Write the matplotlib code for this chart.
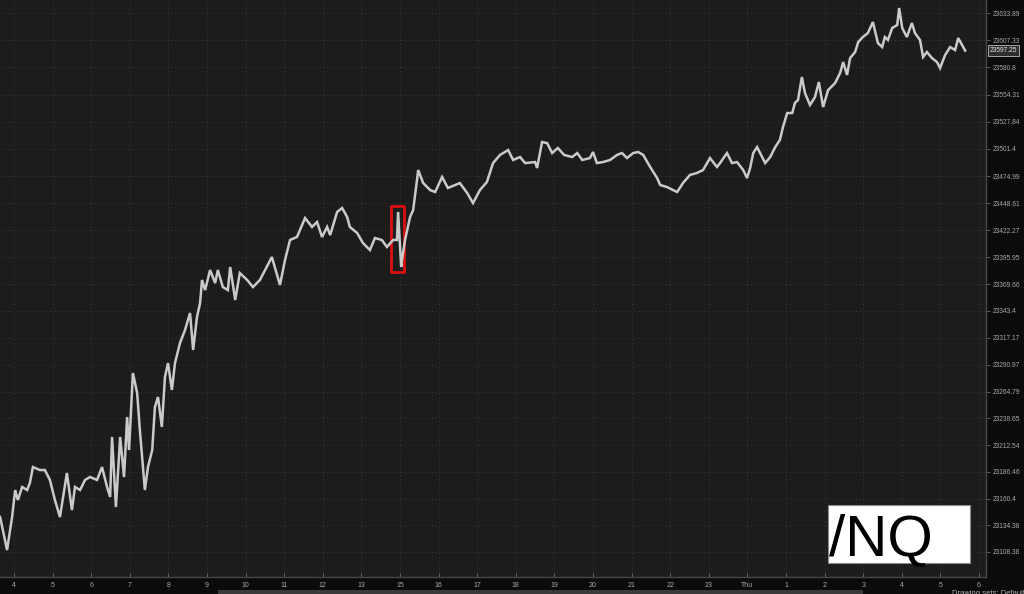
import matplotlib
matplotlib.use('Agg')
import matplotlib.pyplot as plt
from matplotlib.patches import Rectangle

# hours counted from the "4" tick (one unit = one hourly tick)
hours = [-0.36, -0.18, -0.05, 0.03, 0.10, 0.21, 0.34, 0.41, 0.49, 0.67, 0.80, 0.93,
         1.06, 1.19, 1.37, 1.50, 1.58, 1.71, 1.84, 1.97, 2.15, 2.28, 2.41, 2.49,
         2.54, 2.64, 2.75, 2.85, 2.93, 2.98, 3.08, 3.19, 3.26, 3.39, 3.47, 3.58,
         3.65, 3.73, 3.83, 3.91, 3.99, 4.09, 4.17, 4.30, 4.43, 4.56, 4.64, 4.74,
         4.82, 4.87, 4.95, 5.08, 5.21, 5.28, 5.41, 5.54, 5.60, 5.73, 5.85, 6.04,
         6.19, 6.37, 6.68, 6.89, 7.02, 7.15, 7.33, 7.54, 7.72, 7.85, 7.98, 8.11,
         8.19, 8.37, 8.50, 8.63, 8.70, 8.89, 9.04, 9.22, 9.35, 9.53, 9.66, 9.82,
         9.92, 9.95, 10.03, 10.05, 10.13, 10.26, 10.34, 10.44, 10.47, 10.60, 10.78, 10.91,
         11.09, 11.24, 11.55, 11.74, 11.89, 12.07, 12.25, 12.41, 12.59, 12.80, 12.93, 13.11,
         13.24, 13.50, 13.55, 13.68, 13.81, 13.94, 14.09, 14.25, 14.46, 14.59, 14.72, 14.92,
         15.00, 15.10, 15.26, 15.44, 15.62, 15.75, 15.88, 16.04, 16.17, 16.30, 16.48, 16.66,
         16.74, 16.92, 17.07, 17.18, 17.33, 17.51, 17.69, 17.85, 18.03, 18.21, 18.29, 18.47,
         18.60, 18.73, 18.89, 18.99, 19.07, 19.15, 19.25, 19.38, 19.46, 19.59, 19.72, 19.84,
         19.92, 20.03, 20.16, 20.23, 20.31, 20.41, 20.49, 20.62, 20.75, 20.85, 20.96, 21.09,
         21.27, 21.40, 21.48, 21.58, 21.66, 21.79, 21.87, 21.99, 22.12, 22.25, 22.38, 22.49,
         22.56, 22.64, 22.75, 22.88, 22.93, 23.01, 23.13, 23.26, 23.34, 23.47, 23.55, 23.65,
         23.78, 23.91, 23.99, 24.12, 24.25, 24.38, 24.46, 24.56, 24.64]

prices = [23142.5, 23110.3, 23142.5, 23168.8, 23159.1, 23171.8, 23168.8, 23175.6, 23191.2, 23188.3, 23188.3, 23178.6,
          23159.1, 23142.5, 23185.4, 23149.3, 23171.8, 23168.8, 23178.6, 23181.5, 23178.6, 23191.2, 23171.8, 23162.0,
          23220.5, 23152.2, 23220.5, 23181.5, 23240.0, 23207.8, 23282.9, 23263.4, 23227.3, 23168.8, 23191.2, 23207.8,
          23249.7, 23259.5, 23230.3, 23279.0, 23292.6, 23266.3, 23292.6, 23312.2, 23324.8, 23341.4, 23305.3, 23337.5,
          23351.1, 23373.6, 23363.8, 23383.3, 23370.6, 23383.3, 23366.7, 23363.8, 23386.2, 23354.1, 23380.4, 23373.6,
          23366.7, 23373.6, 23396.0, 23368.7, 23393.0, 23412.6, 23415.5, 23434.0, 23425.3, 23430.1, 23415.5, 23425.3,
          23417.4, 23439.9, 23443.8, 23435.0, 23425.3, 23419.4, 23409.6, 23402.8, 23414.5, 23412.6, 23405.8, 23412.6,
          23412.6, 23439.9, 23386.2, 23393.0, 23412.6, 23435.0, 23441.8, 23471.1, 23480.8, 23468.1, 23461.3, 23459.4,
          23474.0, 23463.3, 23468.1, 23458.4, 23448.6, 23461.3, 23469.1, 23487.6, 23495.5, 23500.3, 23490.6, 23493.5,
          23487.6, 23488.6, 23482.8, 23508.1, 23507.1, 23497.4, 23502.3, 23495.5, 23493.5, 23497.4, 23490.6, 23492.5,
          23498.4, 23487.6, 23488.6, 23490.6, 23495.5, 23497.4, 23492.5, 23497.4, 23498.4, 23495.5, 23483.8, 23473.0,
          23466.2, 23464.2, 23461.3, 23459.4, 23468.1, 23476.0, 23477.9, 23480.8, 23492.5, 23483.8, 23487.6, 23497.4,
          23487.6, 23488.6, 23480.8, 23473.0, 23482.8, 23497.4, 23503.2, 23493.5, 23487.6, 23493.5, 23503.2, 23510.1,
          23522.7, 23536.4, 23536.4, 23546.2, 23549.1, 23571.5, 23555.9, 23544.2, 23552.0, 23566.6, 23542.2, 23558.8,
          23565.6, 23575.4, 23586.1, 23573.5, 23590.0, 23595.9, 23605.6, 23610.5, 23614.4, 23625.1, 23604.6, 23600.7,
          23610.5, 23607.6, 23619.3, 23622.2, 23638.8, 23619.3, 23610.5, 23624.1, 23614.4, 23607.6, 23591.0, 23595.9,
          23590.0, 23586.1, 23580.3, 23592.9, 23600.7, 23597.8, 23609.5, 23602.7, 23597.25]

x_labels = ['4', '5', '6', '7', '8', '9', '10', '11', '12', '13', '15', '16', '17',
            '18', '19', '20', '21', '22', '23', 'Thu', '1', '2', '3', '4', '5', '6']
y_levels = [23633.89, 23607.33, 23580.8, 23554.31, 23527.84, 23501.4, 23474.99,
            23448.61, 23422.27, 23395.95, 23369.66, 23343.4, 23317.17, 23290.97,
            23264.79, 23238.65, 23212.54, 23186.46, 23160.4, 23134.38, 23108.38]
last_price = 23597.25
symbol = '/NQ'

plt.rcParams['font.family'] = ['Liberation Sans', 'DejaVu Sans']

fig = plt.figure(figsize=(10.24, 5.94), dpi=100, facecolor='#0b0b0b')
ax = fig.add_axes([0, 17 / 594, 986 / 1024, 577 / 594])
ax.set_facecolor('#1c1c1c')

ax.plot(hours, prices, color='#cacaca', lw=1.8, solid_joinstyle='miter')

ax.set_xlim(-0.363, 25.18)
ax.set_ylim(23084.0, 23646.6)

ax.set_xticks(range(len(x_labels)))
ax.set_xticklabels(x_labels)
ax.yaxis.tick_right()
ax.set_yticks(y_levels)
ax.set_yticklabels([str(v) for v in y_levels])
ax.tick_params(colors='#6e6e6e', labelcolor='#a8a8a8', labelsize=4.8, length=3, width=0.6, pad=1.5)
ax.tick_params(axis='x', direction='in', pad=3.5, labelsize=5)

ax.grid(color='#3a3a3a', linestyle=(0, (1, 3)), lw=0.7)
for s in ['top', 'left']:
    ax.spines[s].set_visible(False)
for s in ['right', 'bottom']:
    ax.spines[s].set_color('#474747')
    ax.spines[s].set_linewidth(1.0)

# red box round the spike
sel = [p for h, p in zip(hours, prices) if 9.9 <= h <= 10.06]
ax.add_patch(Rectangle((9.77, min(sel) - 5), 0.33, max(sel) - min(sel) + 11,
                       fill=False, edgecolor='#e01010', lw=2, joinstyle='round'))

# last price tag
ax.text(1.004, last_price, f'{last_price:.2f}', transform=ax.get_yaxis_transform(),
        fontsize=4.8, color='#e6e6e6', va='center', ha='left',
        bbox=dict(boxstyle='square,pad=0.25', facecolor='#2e2e2e', edgecolor='#bdbdbd', lw=0.6))

# symbol box
fig.patches.append(Rectangle((828 / 1024, 31 / 594), 142 / 1024, 58 / 594,
                             transform=fig.transFigure, facecolor='white',
                             edgecolor='#8a8a8a', lw=0.8))
fig.text(829 / 1024, 38 / 594, symbol, fontsize=42,
         color='black', va='baseline', ha='left')

# scroll strip and footer
fig.patches.append(Rectangle((218 / 1024, 0), 645 / 1024, 4 / 594,
                             transform=fig.transFigure, facecolor='#3a3a3a', lw=0))
fig.text(952 / 1024, 4 / 594, 'Drawing sets: Default', fontsize=5.5, color='#b0b0b0',
         va='top', ha='left')

fig.savefig('out.png', dpi=100, facecolor=fig.get_facecolor())
